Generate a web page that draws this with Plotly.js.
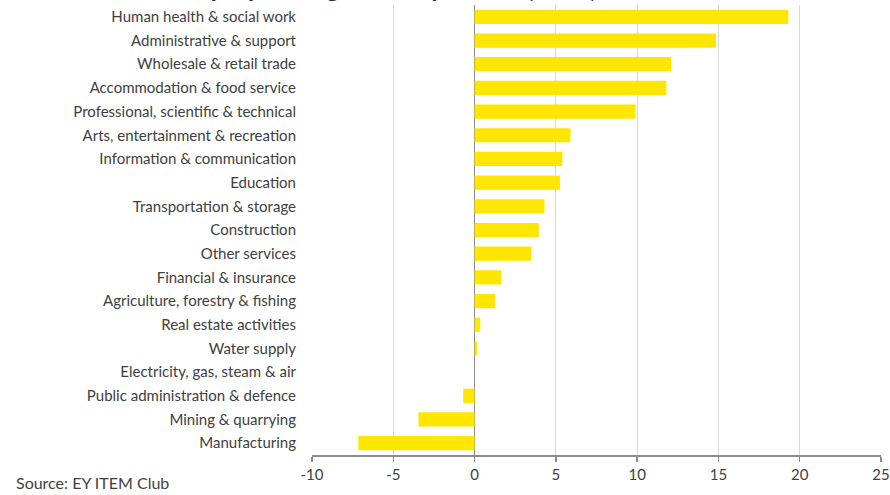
<!DOCTYPE html>
<html>
<head>
<meta charset="utf-8">
<script src="https://cdn.plot.ly/plotly-3.0.1.min.js"></script>
<style>html,body{margin:0;padding:0;background:#fff;}#chart{width:890px;height:495px;}</style>
</head>
<body>
<div id="chart"></div>
<script>
const sectors = [
  "Human health & social work",
  "Administrative & support",
  "Wholesale & retail trade",
  "Accommodation & food service",
  "Professional, scientific & technical",
  "Arts, entertainment & recreation",
  "Information & communication",
  "Education",
  "Transportation & storage",
  "Construction",
  "Other services",
  "Financial & insurance",
  "Agriculture, forestry & fishing",
  "Real estate activities",
  "Water supply",
  "Electricity, gas, steam & air",
  "Public administration & defence",
  "Mining & quarrying",
  "Manufacturing"
];
const growth = [19.3, 14.85, 12.1, 11.8, 9.9, 5.9, 5.4, 5.25, 4.3, 3.95, 3.5, 1.65, 1.25, 0.35, 0.15, 0, -0.7, -3.45, -7.15];
const xTicks = [-10, -5, 0, 5, 10, 15, 20, 25];
const titleText = "Employment growth by sector (000s)";
const sourceText = "Source: EY ITEM Club";

const font = "Lato, 'Open Sans', sans-serif";

const trace = {
  type: "bar",
  orientation: "h",
  y: sectors,
  x: growth,
  marker: {color: "#FFE600", line: {width: 0}},
  hoverinfo: "x+y"
};

const layout = {
  width: 890,
  height: 495,
  margin: {l: 312, r: 9, t: 5, b: 40, pad: 0},
  paper_bgcolor: "#ffffff",
  plot_bgcolor: "#ffffff",
  bargap: 0.4,
  showlegend: false,
  font: {family: font, color: "#404040", size: 15},
  xaxis: {
    range: [-10, 25],
    tickvals: xTicks,
    ticktext: xTicks.map(String),
    showgrid: true,
    gridcolor: "#d9d9d9",
    gridwidth: 1,
    zeroline: true,
    zerolinecolor: "#8c8c8c",
    zerolinewidth: 1.5,
    showline: true,
    linecolor: "#8c8c8c",
    linewidth: 1.5,
    ticks: "outside",
    ticklen: 5,
    tickcolor: "#8c8c8c",
    tickwidth: 1.5,
    tickfont: {family: font, size: 15, color: "#404040"},
    fixedrange: true
  },
  yaxis: {
    type: "category",
    categoryorder: "array",
    categoryarray: sectors,
    autorange: "reversed",
    showgrid: false,
    zeroline: false,
    showline: false,
    ticks: "",
    ticklabelstandoff: 15,
    tickfont: {family: font, size: 15, color: "#404040"},
    fixedrange: true
  },
  annotations: [
    {
      text: sourceText,
      xref: "paper", yref: "paper",
      x: (14 - 312) / 569, y: 0,
      xanchor: "left", yanchor: "middle",
      yshift: -27,
      showarrow: false,
      font: {family: font, size: 16, color: "#404040"}
    },
    {
      text: "<b>" + titleText + "</b>",
      xref: "paper", yref: "paper",
      x: (385 - 312) / 569, y: 1,
      xanchor: "center", yanchor: "bottom",
      yshift: 0,
      showarrow: false,
      font: {family: font, size: 26, color: "#2e2e38"}
    }
  ]
};

Plotly.newPlot("chart", [trace], layout, {displayModeBar: false, staticPlot: true});
</script>
</body>
</html>
